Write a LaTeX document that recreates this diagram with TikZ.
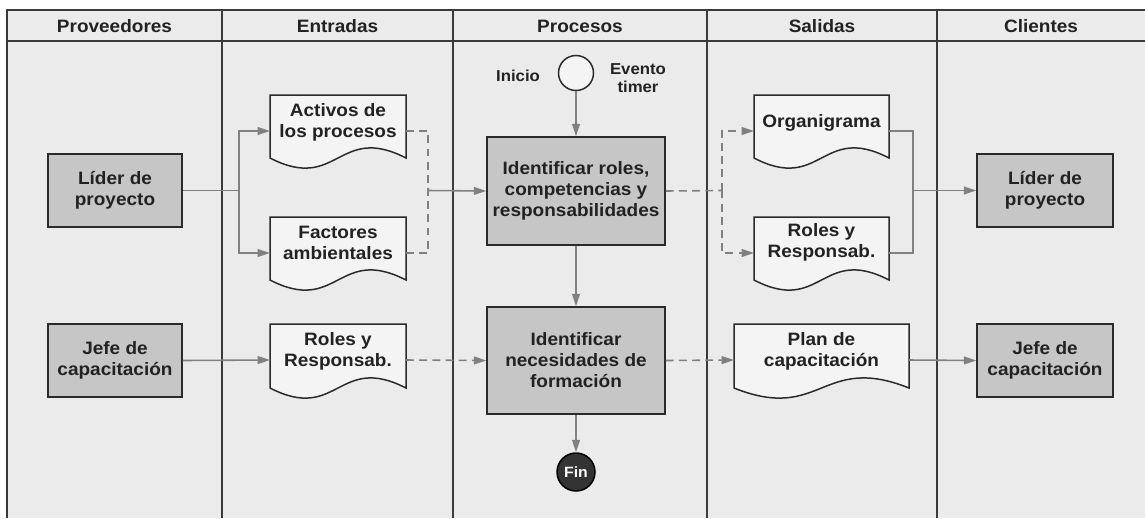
\documentclass[tikz,border=0pt]{standalone}
\usepackage{fontspec}
\setmainfont{Liberation Sans}[FakeStretch=1.06]
\usetikzlibrary{arrows.meta}

\definecolor{lanebg}{HTML}{EBEBEB}
\definecolor{laneline}{HTML}{3A3A3A}
\definecolor{boxline}{HTML}{2A2A2A}
\definecolor{procgray}{HTML}{C6C6C6}
\definecolor{docfill}{HTML}{F4F4F4}
\definecolor{conngray}{HTML}{808080}
\definecolor{txt}{HTML}{222222}
\definecolor{finfill}{HTML}{333333}

% document symbol with a wavy lower edge: name, left, right, top, bottom, text, text y offset
\newcommand{\docshape}[7]{%
  \draw[docline] (#2,#4) -- (#3,#4) -- (#3,#5)
    .. controls ({(#2+#3)/2},{#5-35}) and ({(#2+#3)/2},{#5+35}) .. (#2,#5) -- cycle;
  \node[docport, minimum width={(#3-#2)*0.02cm}] (#1) at ({(#2+#3)/2},{#4+36}) {};
  \node[doctext] (#1-text) at ({(#2+#3)/2},{#4+#7}) {#6};
}

\begin{document}
\begin{tikzpicture}[
  x=0.02cm, y=-0.02cm,
  font=\bfseries\fontsize{10.2}{12}\selectfont,
  lane/.style={draw=laneline, line width=1.1pt},
  header/.style={text=txt, inner sep=0pt},
  procbox/.style={draw=boxline, fill=procgray, line width=0.85pt, text=txt,
    align=center, inner sep=2pt},
  docline/.style={draw=boxline, fill=docfill, line width=0.85pt},
  docport/.style={draw=none, minimum height=1.44cm, inner sep=0pt, outer sep=0pt},
  doctext/.style={text=txt, align=center, inner sep=0pt},
  conn/.style={draw=conngray, line width=0.9pt},
  dashedconn/.style={conn, dash pattern=on 4.5pt off 3pt},
  arr/.style={-{Triangle[length=7pt,width=4.4pt]}},
  evt/.style={circle, draw=boxline, line width=0.85pt, inner sep=0pt},
  evtlabel/.style={text=txt, align=center, inner sep=0pt,
    font=\bfseries\fontsize{9}{10.5}\selectfont},
]
\useasboundingbox (0,0) rectangle (1145,518);

% swimlane background and frame
\fill[lanebg] (7,10) rectangle (1145,518);
\draw[lane] (1145,10) -- (7,10) -- (7,518);
\draw[lane] (7,41) -- (1145,41);
\foreach \xx in {222,453,707,937} \draw[lane] (\xx,10) -- (\xx,518);

% column headers
\node[header] (h-prov) at (114.5,26) {Proveedores};
\node[header] (h-entr) at (337.5,26) {Entradas};
\node[header] (h-proc) at (580,26) {Procesos};
\node[header] (h-sal)  at (822,26) {Salidas};
\node[header] (h-cli)  at (1041,26) {Clientes};

% suppliers and clients
\node[procbox, minimum width={134*0.02cm}, minimum height={73*0.02cm}] (lidA) at (115,190.5) {Líder de\\proyecto};
\node[procbox, minimum width={134*0.02cm}, minimum height={73*0.02cm}] (jefeA) at (115,360.5) {Jefe de\\capacitación};
\node[procbox, minimum width={136*0.02cm}, minimum height={73*0.02cm}] (lidB) at (1045,190.5) {Líder de\\proyecto};
\node[procbox, minimum width={136*0.02cm}, minimum height={73*0.02cm}] (jefeB) at (1045,360.5) {Jefe de\\capacitación};

% process steps
\node[procbox, minimum width={178*0.02cm}, minimum height={108*0.02cm}] (roles) at (576,191) {Identificar roles,\\competencias y\\responsabilidades};
\node[procbox, minimum width={178*0.02cm}, minimum height={107*0.02cm}] (necesid) at (576,360.5) {Identificar\\necesidades de\\formación};

% start and end events
\node[evt, fill=docfill, minimum size={35*0.02cm}] (inicio) at (576,73) {};
\node[evtlabel] (inicio-l) at (518,76) {Inicio};
\node[evtlabel] (timer-l) at (638,78) {Evento\\timer};
\node[evt, fill=finfill, draw=black, minimum size={38*0.02cm}, text=white,
  font=\bfseries\fontsize{8.5}{10}\selectfont] (fin) at (576,472) {Fin};

% inputs
\docshape{activos}{270}{406}{95}{158}{Activos de\\los procesos}{27}
\docshape{factores}{270}{406}{217}{280}{Factores\\ambientales}{26}
\docshape{rolesE}{270}{406}{324}{388}{Roles y\\Responsab.}{27}

% outputs
\docshape{organig}{754}{889}{95}{158}{Organigrama}{28}
\docshape{rolesS}{754}{889}{217}{280}{Roles y\\Responsab.}{25}
\docshape{plan}{734}{909}{324}{388}{Plan de\\capacitación}{27}

% junction points of the split and merged flows
\coordinate (j1) at (239,190.5);
\coordinate (j2) at (428,190.5);
\coordinate (j3) at (722,190.5);
\coordinate (j4) at (913,190.5);

% upper row
\draw[conn] (lidA.east) -- (j1);
\draw[conn, arr] (j1) |- (activos.west);
\draw[conn, arr] (j1) |- (factores.west);
\draw[dashedconn] (activos.east) -| (j2);
\draw[dashedconn] (factores.east) -| (j2);
\draw[conn, arr] (j2) -- (roles.west);
\draw[dashedconn] (roles.east) -- (j3);
\draw[dashedconn, arr] (j3) |- (organig.west);
\draw[dashedconn, arr] (j3) |- (rolesS.west);
\draw[conn] (organig.east) -| (j4);
\draw[conn] (rolesS.east) -| (j4);
\draw[conn, arr] (j4) -- (lidB.west);

% lower row
\draw[conn, arr] (jefeA.east) -- (rolesE.west);
\draw[dashedconn, arr] (rolesE.east) -- (necesid.west);
\draw[dashedconn, arr] (necesid.east) -- (plan.west);
\draw[conn, arr] (plan.east) -- (jefeB.west);

% sequence flow
\draw[conn, arr] (inicio.south) -- (roles.north);
\draw[conn, arr] (roles.south) -- (necesid.north);
\draw[conn, arr] (necesid.south) -- (fin.north);
\end{tikzpicture}
\end{document}
